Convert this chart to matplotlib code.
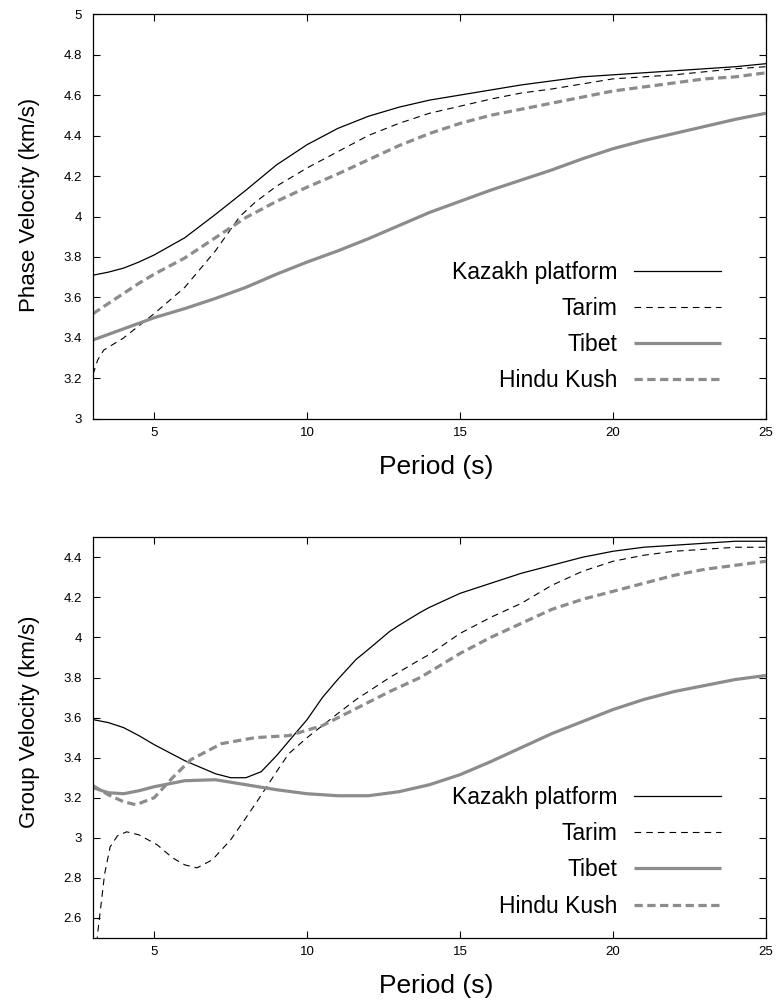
import numpy as np
import matplotlib
matplotlib.use("Agg")
import matplotlib.pyplot as plt

plt.rcParams['font.family'] = ['Liberation Sans', 'DejaVu Sans']

# Phase velocity curves (period s, velocity km/s)
p_kaz = [3, 3.5, 4, 4.5, 5, 6, 7, 8, 9, 10, 11, 12, 13, 14, 15, 16, 17, 18, 19, 20, 21, 22,
         23, 24, 25]
v_kaz = [3.71, 3.725, 3.745, 3.775, 3.81, 3.895, 4.01, 4.13, 4.255, 4.355, 4.435, 4.495,
         4.54, 4.575, 4.60, 4.625, 4.65, 4.67, 4.69, 4.70, 4.71, 4.72, 4.73, 4.74, 4.755]

p_tar = [3, 3.15, 3.35, 4, 4.5, 5, 6, 7, 7.8, 8.3, 9, 9.5, 10, 11, 12, 13, 14, 15, 16, 17,
         18, 19, 20, 21, 22, 23, 24, 25]
v_tar = [3.22, 3.29, 3.34, 3.40, 3.46, 3.52, 3.65, 3.83, 4.00, 4.07, 4.15, 4.195, 4.24,
         4.32, 4.40, 4.46, 4.51, 4.545, 4.58, 4.61, 4.63, 4.655, 4.68, 4.69, 4.70, 4.715,
         4.73, 4.74]

p_tib = [3, 4, 5, 6, 7, 8, 9, 10, 11, 12, 13, 14, 15, 16, 17, 18, 19, 20, 21, 22, 23, 24, 25]
v_tib = [3.39, 3.445, 3.50, 3.545, 3.595, 3.65, 3.715, 3.775, 3.83, 3.89, 3.955, 4.02,
         4.075, 4.13, 4.18, 4.23, 4.285, 4.335, 4.375, 4.41, 4.445, 4.48, 4.51]

p_hk = [3, 4, 4.5, 5, 6, 7, 8, 9, 10, 11, 12, 13, 14, 15, 16, 17, 18, 19, 20, 21, 22, 23,
        24, 25]
v_hk = [3.52, 3.62, 3.67, 3.715, 3.795, 3.895, 3.995, 4.075, 4.145, 4.21, 4.28, 4.35, 4.41,
        4.46, 4.50, 4.53, 4.56, 4.59, 4.62, 4.64, 4.66, 4.68, 4.69, 4.71]

# Group velocity curves
g_p_kaz = [3, 3.5, 4, 4.5, 5, 6, 7, 7.5, 8, 8.5, 9, 9.5, 10, 10.5, 11, 11.6, 12, 12.7, 13,
           13.7, 14, 15, 16, 17, 18, 19, 20, 21, 22, 23, 24, 25]
g_v_kaz = [3.59, 3.575, 3.55, 3.51, 3.465, 3.385, 3.32, 3.30, 3.30, 3.33, 3.41, 3.50, 3.59,
           3.70, 3.79, 3.89, 3.94, 4.03, 4.06, 4.125, 4.15, 4.22, 4.27, 4.32, 4.36, 4.40,
           4.43, 4.45, 4.46, 4.47, 4.48, 4.48]

g_p_tar = [3.05, 3.15, 3.28, 3.38, 3.56, 3.8, 4.1, 4.5, 5.1, 5.6, 6.0, 6.4, 6.9, 7.5, 8,
           8.4, 9, 9.4, 10, 10.5, 11, 11.6, 12.2, 12.7, 13.7, 14, 15, 16, 17, 18, 19, 20,
           21, 22, 23, 24, 25]
g_v_tar = [2.30, 2.52, 2.69, 2.82, 2.955, 3.01, 3.03, 3.015, 2.965, 2.90, 2.865, 2.85,
           2.89, 2.99, 3.10, 3.19, 3.33, 3.42, 3.50, 3.56, 3.62, 3.69, 3.75, 3.80, 3.89,
           3.915, 4.02, 4.10, 4.17, 4.26, 4.33, 4.38, 4.41, 4.43, 4.44, 4.45, 4.45]

g_p_tib = [3, 3.5, 4, 4.5, 5, 6, 7, 8, 9, 10, 11, 12, 13, 14, 15, 16, 17, 18, 19, 20, 21,
           22, 23, 24, 25]
g_v_tib = [3.25, 3.225, 3.22, 3.235, 3.255, 3.285, 3.29, 3.265, 3.24, 3.22, 3.21, 3.21,
           3.23, 3.265, 3.315, 3.38, 3.45, 3.52, 3.58, 3.64, 3.69, 3.73, 3.76, 3.79, 3.81]

g_p_hk = [3, 3.5, 4, 4.4, 5, 5.6, 6.2, 7.2, 8.3, 9.4, 10.5, 11.6, 12.7, 13.7, 15, 16, 17,
          18, 19, 20, 21, 22, 23, 24, 25]
g_v_hk = [3.26, 3.215, 3.18, 3.165, 3.20, 3.30, 3.39, 3.47, 3.50, 3.51, 3.56, 3.645, 3.73,
          3.80, 3.92, 4.00, 4.07, 4.14, 4.19, 4.23, 4.27, 4.31, 4.34, 4.36, 4.38]

names = ['Kazakh platform', 'Tarim', 'Tibet', 'Hindu Kush']
gray = '#8c8c8e'


def draw(ax, curves, leg_y):
    (xa, ya), (xb, yb), (xc, yc), (xd, yd) = curves
    ax.plot(xa, ya, color='black', lw=0.9, label=names[0], solid_joinstyle='round')
    ax.plot(xb, yb, color='black', lw=0.8, dashes=(6, 4.5), label=names[1],
            dash_joinstyle='round')
    ax.plot(xc, yc, color=gray, lw=2.3, label=names[2], solid_capstyle='butt',
            solid_joinstyle='round')
    ax.plot(xd, yd, color=gray, lw=2.3, dashes=(2.6, 1.4), label=names[3],
            dash_joinstyle='round')
    ax.set_xlim(3, 25)
    ax.set_xticks([5, 10, 15, 20, 25])
    ax.tick_params(direction='in', top=True, right=True, labelsize=9.5, length=5,
                   width=0.8)
    ax.tick_params(axis='y', pad=8)
    ax.tick_params(axis='x', pad=6)
    ax.set_xlabel('Period (s)', fontsize=19, labelpad=11)
    ax.xaxis.label.set_x(0.51)
    for s in ax.spines.values():
        s.set_linewidth(0.9)
    ax.legend(loc='lower right', bbox_to_anchor=(0.95, leg_y), frameon=False,
              markerfirst=False, fontsize=16.5, handlelength=3.8, handletextpad=0.7,
              labelspacing=0.58, borderpad=0)


fig = plt.figure(figsize=(7.77, 10.07), dpi=100)
ax1 = fig.add_axes([0.1197, 0.584, 0.866, 0.402])
ax2 = fig.add_axes([0.1197, 0.0685, 0.866, 0.398])

draw(ax1, [(p_kaz, v_kaz), (p_tar, v_tar), (p_tib, v_tib), (p_hk, v_hk)], 0.037)
ax1.set_ylim(3, 5)
ax1.set_yticks([3, 3.2, 3.4, 3.6, 3.8, 4, 4.2, 4.4, 4.6, 4.8, 5])
ax1.set_yticklabels(['3', '3.2', '3.4', '3.6', '3.8', '4', '4.2', '4.4', '4.6', '4.8', '5'])
ax1.set_ylabel('Phase Velocity (km/s)', fontsize=16)
ax1.yaxis.set_label_coords(-0.079, 0.528)

draw(ax2, [(g_p_kaz, g_v_kaz), (g_p_tar, g_v_tar), (g_p_tib, g_v_tib), (g_p_hk, g_v_hk)],
     0.022)
ax2.set_ylim(2.5, 4.5)
ax2.set_yticks([2.6, 2.8, 3, 3.2, 3.4, 3.6, 3.8, 4, 4.2, 4.4])
ax2.set_yticklabels(['2.6', '2.8', '3', '3.2', '3.4', '3.6', '3.8', '4', '4.2', '4.4'])
ax2.set_ylabel('Group Velocity (km/s)', fontsize=16)
ax2.yaxis.set_label_coords(-0.079, 0.539)

fig.savefig('out.png', dpi=100)
